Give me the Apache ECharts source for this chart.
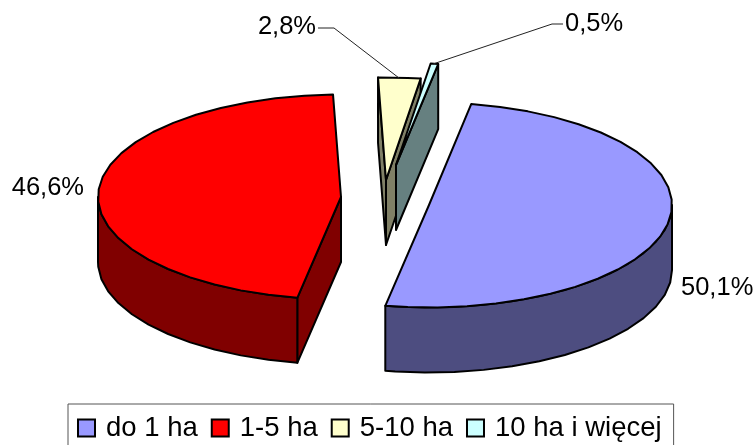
<!DOCTYPE html>
<html>
<head>
<meta charset="utf-8">
<script src="https://cdn.jsdelivr.net/npm/echarts@6/dist/echarts.min.js"></script>
<style>
    html, body {margin: 0; padding: 0; background: #fff; overflow: hidden;}
    #chart {width: 754px; height: 445px;}
</style>
</head>
<body>
<div id="chart"></div>
<script>
// udzial gospodarstw wg powierzchni
const categories = ['do 1 ha', '1-5 ha', '5-10 ha', '10 ha i więcej'];
const shares = [50.1, 46.6, 2.8, 0.5];

const topColors = ['#9999FF', '#FF0000', '#FFFFCC', '#CCFFFF'];
const wallColors = ['#4D4D80', '#800000', '#808066', '#668080'];

// pie drawn by hand, ECharts has no 3d pie without gl
const RX = 243, RY = 102.5, DEPTH = 65, START_DEG = 10, ARC_STEP = 7;
const FONT = '25.5px "Liberation Sans", Arial, sans-serif';

// exploded centre of each slice + where its label sits
const layout = [
    {cx: 429, cy: 205, label: [681, 288], anchor: 'left'},
    {cx: 341, cy: 197, label: [84, 188], anchor: 'right'},
    {cx: 386, cy: 180, label: [316, 27], anchor: 'right', leader: [[318, 28], [334, 28], [399, 78]]},
    {cx: 396, cy: 165, label: [565, 24], anchor: 'left', leader: [[563, 24], [552, 24], [433, 64]]}
];

function pt(o, deg, dy) {
    let r = deg * Math.PI / 180;
    return [o.cx + RX * Math.sin(r), o.cy - RY * Math.cos(r) + (dy || 0)];
}

function arcPoints(o, a, b, dy) {
    let out = [];
    for (let d = a; d < b; d += ARC_STEP) out.push(pt(o, d, dy));
    out.push(pt(o, b, dy));
    return out;
}

function poly(points, fill) {
    return {
        type: 'polygon',
        shape: {points: points},
        style: {fill: fill, stroke: '#000', lineWidth: 2, lineJoin: 'round'}
    };
}

function sliceRange(i) {
    let total = shares.reduce((s, v) => s + v, 0);
    let before = shares.slice(0, i).reduce((s, v) => s + v, 0);
    return [START_DEG + before / total * 360, START_DEG + (before + shares[i]) / total * 360];
}

function renderSlice(i, api) {
    let o = layout[i];
    let [a, b] = sliceRange(i);
    let c = [o.cx, o.cy], cLow = [o.cx, o.cy + DEPTH];
    let kids = [];

    // cut faces, only those turned towards the viewer
    if (Math.sin(a * Math.PI / 180) < 0) {
        kids.push(poly([c, pt(o, a), pt(o, a, DEPTH), cLow], wallColors[i]));
    }
    if (Math.sin(b * Math.PI / 180) > 0) {
        kids.push(poly([c, pt(o, b), pt(o, b, DEPTH), cLow], wallColors[i]));
    }

    // outer wall, only the part facing us
    let from = Math.max(a, 90), to = Math.min(b, 270);
    if (to > from) {
        let top = arcPoints(o, from, to);
        let low = arcPoints(o, from, to, DEPTH).reverse();
        kids.push(poly(top.concat(low), wallColors[i]));
    }

    // top
    kids.push(poly([c].concat(arcPoints(o, a, b)), topColors[i]));

    if (o.leader) {
        kids.push({
            type: 'polyline',
            shape: {points: o.leader},
            style: {fill: null, stroke: '#222', lineWidth: 1}
        });
    }
    kids.push({
        type: 'text',
        style: {
            x: o.label[0],
            y: o.label[1],
            text: api.value(0).toFixed(1).replace('.', ',') + '%',
            font: FONT,
            fill: '#000',
            align: o.anchor,
            verticalAlign: 'middle'
        }
    });
    return {type: 'group', children: kids};
}

let myChart = echarts.init(document.getElementById('chart'), null, {renderer: 'canvas'});
myChart.setOption({
    animation: false,
    backgroundColor: '#fff',
    legend: {
        left: 68,
        top: 404,
        data: categories,
        orient: 'horizontal',
        icon: 'rect',
        itemWidth: 17,
        itemHeight: 17,
        itemGap: 13,
        padding: [10, 12, 20, 9],
        borderColor: '#555',
        borderWidth: 1,
        selectedMode: false,
        itemStyle: {borderColor: '#000', borderWidth: 2},
        textStyle: {
            color: '#000',
            fontSize: 27.5,
            fontFamily: '"Liberation Sans", Arial, sans-serif',
            padding: [0, 0, 0, 6]
        }
    },
    series: categories.map((name, i) => ({
        type: 'custom',
        name: name,
        coordinateSystem: 'none',
        silent: true,
        itemStyle: {color: topColors[i]},
        data: [[shares[i]]],
        renderItem: (params, api) => renderSlice(i, api)
    }))
});
</script>
</body>
</html>
